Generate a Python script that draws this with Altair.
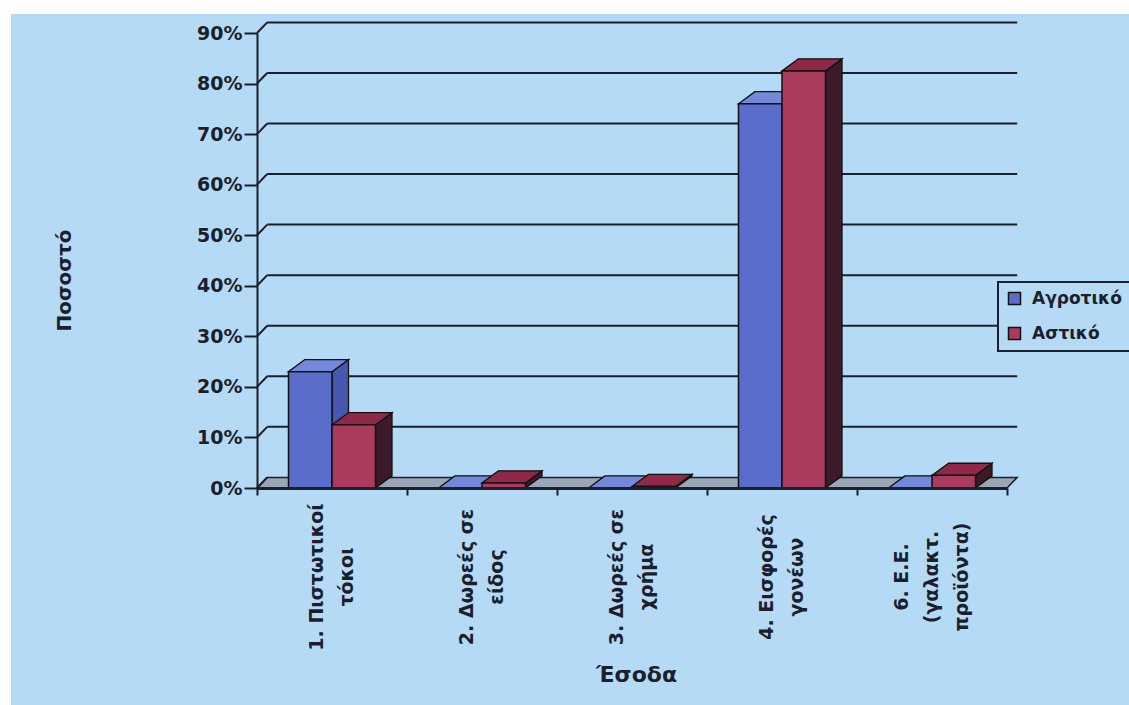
import altair as alt
import pandas as pd

# ---- data -------------------------------------------------------------
categories = [
    "1. Πιστωτικοί\nτόκοι",
    "2. Δωρεές σε\nείδος",
    "3. Δωρεές σε\nχρήμα",
    "4. Εισφορές\nγονέων",
    "6. Ε.Ε.\n(γαλακτ.\nπροϊόντα)",
]
series = ["Αγροτικό", "Αστικό"]
agrotiko = [23, 0, 0, 76, 0]
astiko = [12.5, 1, 0.3, 82.5, 2.5]
y_ticks = [0, 10, 20, 30, 40, 50, 60, 70, 80, 90]

# ---- style ------------------------------------------------------------
BG = "#b4daf5"
INK = "#1c1f2b"
FONT = "DejaVu Sans"
FRONT = ["#5a6dcb", "#aa3b5d"]
TOP = ["#7489dc", "#8f2947"]
SIDE = ["#4657ad", "#3b1b29"]

BAR_W = 0.29                   # bar width in category units
BAR_DX, BAR_DY = 0.11, 2.4     # oblique depth of the 3-D boxes
WALL_DX, WALL_DY = 0.068, 2.1  # depth of the back wall / floor
LINE_H = 30                    # spacing of the lines in category labels
N = len(categories)

XS = alt.Scale(domain=[0, N], nice=False, zero=False)
YS = alt.Scale(domain=[0, 90], nice=False, zero=False)

AX = alt.Axis(
    values=list(range(N + 1)),
    labels=False,
    grid=False,
    zindex=1,
    domainColor=INK,
    domainWidth=3,
    tickColor=INK,
    tickWidth=2,
    tickSize=7,
    title="Έσοδα",
    titleFont=FONT,
    titleFontSize=22,
    titleFontWeight="bold",
    titleColor=INK,
    titleAlign="center",
    titleBaseline="middle",
    titleX=379,
    titleY=186,
)
AY = alt.Axis(
    values=y_ticks,
    labelExpr="datum.value + '%'",
    grid=False,
    zindex=1,
    domainColor=INK,
    domainWidth=2,
    tickColor=INK,
    tickWidth=2,
    tickSize=13,
    labelPadding=2,
    labelFont=FONT,
    labelFontSize=19,
    labelFontWeight="bold",
    labelColor=INK,
    title="Ποσοστό",
    titleFont=FONT,
    titleFontSize=20,
    titleFontWeight="bold",
    titleColor=INK,
    titleAngle=270,
    titleAlign="center",
    titleBaseline="middle",
    titleX=-193,
    titleY=247,
)


def X(field):
    return alt.X(field, scale=XS, axis=AX)


def Y(field):
    return alt.Y(field, scale=YS, axis=AY)


# ---- geometry tables built from the value lists ------------------------
front_rows, top_rows, side_rows = [], [], []
for i in range(N):
    for s, vals in enumerate([agrotiko, astiko]):
        v = vals[i]
        left = i + 0.5 - BAR_W + s * BAR_W
        right = left + BAR_W
        key = f"{i}-{s}"
        front_rows.append(dict(bar=key, series=series[s], v=v, left=left, right=right))
        top_rows += [
            dict(bar=key, fill=TOP[s], y=v, x=left, x2=right),
            dict(bar=key, fill=TOP[s], y=v + BAR_DY, x=left + BAR_DX, x2=right + BAR_DX),
        ]
        side_rows += [
            dict(bar=key, fill=SIDE[s], x=right, y=0, y2=v),
            dict(bar=key, fill=SIDE[s], x=right + BAR_DX, y=BAR_DY, y2=v + BAR_DY),
        ]
fronts = pd.DataFrame(front_rows)
tops = pd.DataFrame(top_rows)
sides = pd.DataFrame(side_rows)

floor = pd.DataFrame({"y": [0, WALL_DY], "x": [0, WALL_DX], "x2": [N, N + WALL_DX]})
grid = pd.DataFrame({"v": y_ticks})
labels = pd.DataFrame(
    {
        "label": categories,
        "pos": [i + 0.5 for i in range(N)],
        "lines": [c.count("\n") + 1 for c in categories],
    }
)

# ---- layers -----------------------------------------------------------
panel = alt.Chart(pd.DataFrame({"k": [0]})).mark_rect(color=BG).encode(
    x=alt.value(-246), x2=alt.value(872), y=alt.value(-19), y2=alt.value(672)
)

floor_layer = alt.Chart(floor).mark_area(
    orient="horizontal", color="#9aa5b5", stroke=INK, strokeWidth=1.5
).encode(y=Y("y:Q"), x=X("x:Q"), x2="x2:Q")

grid_lines = alt.Chart(grid).transform_filter("datum.v > 0").transform_calculate(
    yb=f"datum.v + {WALL_DY}", xa=f"{WALL_DX}", xb=f"{N + WALL_DX}"
).mark_rule(color=INK, strokeWidth=2).encode(
    x=X("xa:Q"), x2="xb:Q", y=Y("yb:Q")
)

grid_diag = alt.Chart(grid).transform_calculate(
    yb=f"datum.v + {WALL_DY}", xa="0", xb=f"{WALL_DX}"
).mark_rule(color=INK, strokeWidth=2).encode(
    x=X("xa:Q"), x2="xb:Q", y=Y("v:Q"), y2="yb:Q"
)

side_layer = alt.Chart(sides).mark_area(
    orient="vertical", stroke="#111", strokeWidth=1.3
).encode(
    x=X("x:Q"),
    y=Y("y:Q"),
    y2="y2:Q",
    color=alt.Color("fill:N", scale=None),
    detail="bar:N",
)

top_layer = alt.Chart(tops).mark_area(
    orient="horizontal", stroke="#111", strokeWidth=1.3
).encode(
    y=Y("y:Q"),
    x=X("x:Q"),
    x2="x2:Q",
    color=alt.Color("fill:N", scale=None),
    detail="bar:N",
)

front_layer = alt.Chart(fronts).mark_rect(stroke="#111", strokeWidth=1.5).encode(
    x=X("left:Q"),
    x2="right:Q",
    y=Y("v:Q"),
    y2=alt.datum(0),
    color=alt.Color(
        "series:N",
        scale=alt.Scale(domain=series, range=FRONT),
        title=None,
        legend=alt.Legend(
            orient="none",
            legendX=741,
            legendY=249,
            fillColor=BG,
            strokeColor=INK,
            padding=8,
            symbolType="square",
            symbolSize=144,
            symbolStrokeColor=INK,
            symbolStrokeWidth=1.5,
            symbolOpacity=1,
            labelFont=FONT,
            labelFontSize=17,
            labelFontWeight="bold",
            labelColor=INK,
            labelOffset=9,
            rowPadding=16,
        ),
    ),
)


def label_layer(n_lines):
    # multi-line rotated labels, shifted so the block is centred on the category
    return (
        alt.Chart(labels)
        .transform_filter(f"datum.lines == {n_lines}")
        .mark_text(
            angle=270,
            align="center",
            baseline="middle",
            lineBreak="\n",
            lineHeight=LINE_H,
            dy=-(n_lines - 1) * LINE_H / 2,
            font=FONT,
            fontSize=19,
            fontWeight="bold",
            color=INK,
        )
        .encode(x=X("pos:Q"), y=alt.value(544), text="label:N")
    )


chart = (
    alt.layer(
        panel,
        floor_layer,
        grid_lines,
        grid_diag,
        side_layer,
        top_layer,
        front_layer,
        label_layer(2),
        label_layer(3),
    )
    .properties(
        width=750,
        height=455,
        padding={"left": 257, "top": 33, "right": 122, "bottom": 217},
        autosize=alt.AutoSizeParams(type="none"),
    )
    .configure(background="white")
    .configure_view(strokeWidth=0)
    .configure_legend(strokeWidth=2)
)

chart.save("out.html", embed_options={"renderer": "svg", "actions": False})
